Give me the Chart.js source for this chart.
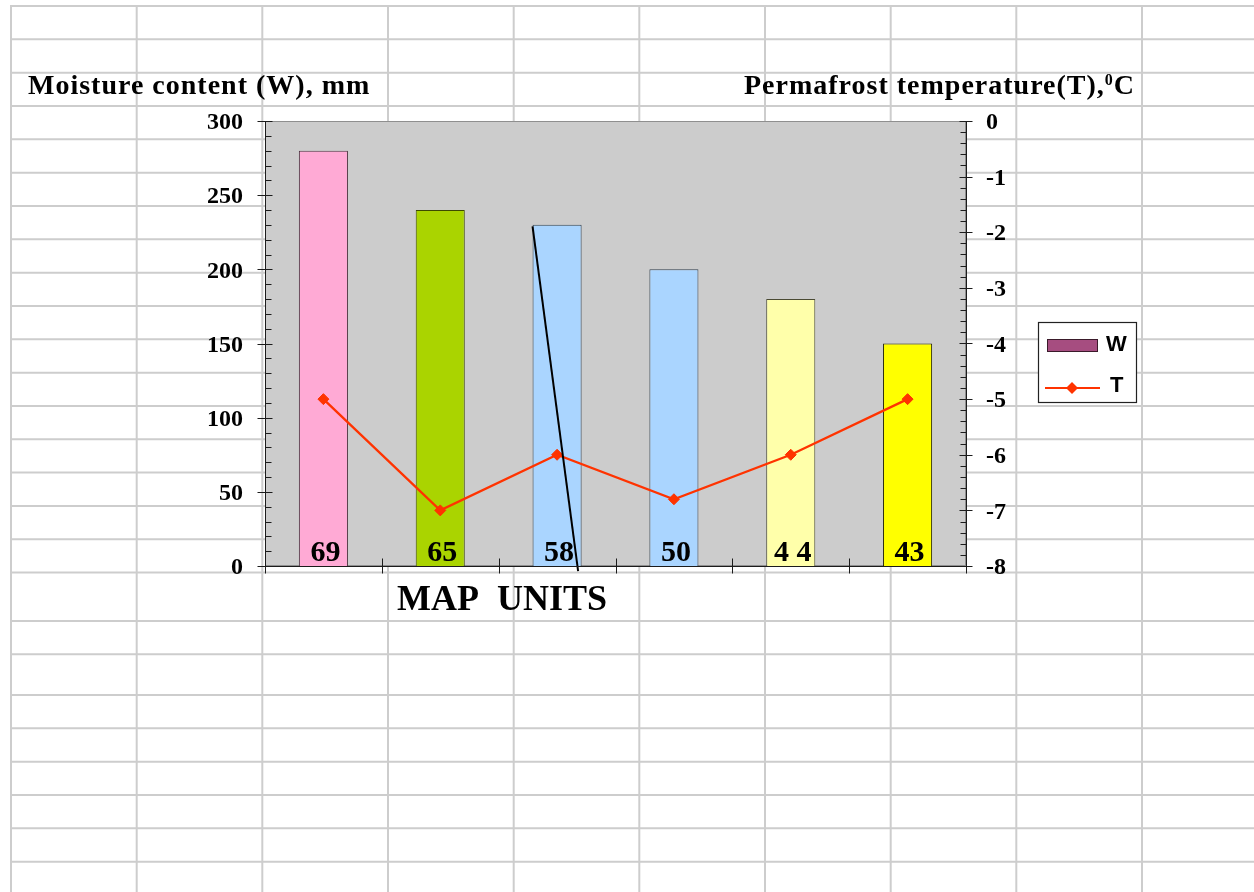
<!DOCTYPE html>
<html>
<head>
<meta charset="utf-8">
<script src="https://cdn.jsdelivr.net/npm/chart.js@4.4.1/dist/chart.umd.min.js"></script>
<style>
  html, body { margin: 0; padding: 0; background: #fff; overflow: hidden; }
  canvas { display: block; }
</style>
</head>
<body>
<canvas id="chart" width="1254" height="892"></canvas>
<script>
// Map units (labels written at the foot of each bar)
const mapUnits = ['69', '65', '58', '50', '4 4', '43'];
// Moisture content W, mm
const moisture = [280, 240, 230, 200, 180, 150];
// Permafrost temperature T, °C
const temperature = [-5, -7, -6, -6.8, -6, -5];
// Axis ranges
const moistureRange = { min: 0, max: 300, step: 50, minor: 10 };
const temperatureRange = { min: -8, max: 0, step: 1, minor: 0.2 };
// Hand-drawn stroke across the third bar (x in category units, y in mm)
const strokeX = [1.79, 2.18];
const strokeY = [229, -3.5];

const barFills = ['#ffaad5', '#aad400', '#aad5ff', '#aad5ff', '#ffffaa', '#ffff00'];
const barEdges = ['#4d3340', '#3d4a00', '#33414f', '#33414f', '#4a4a33', '#222200'];

const W = 1254, H = 892;
const SERIF = '"Liberation Serif", "Times New Roman", serif';
const SANS = '"Liberation Sans", Arial, sans-serif';

// Worksheet cell grid behind the chart
const sheetCols = [11, 136.7, 262.3, 388, 513.7, 639.3, 765, 890.7, 1016.3, 1142];
const sheetRows = [];
for (let k = 0; k <= 17; k++) sheetRows.push(6 + k * 33.33);
sheetRows.push(621, 654.3, 695, 728.3, 761.7, 795, 828.3, 861.7);

function seg(ctx, x1, y1, x2, y2) {
  ctx.beginPath(); ctx.moveTo(x1, y1); ctx.lineTo(x2, y2); ctx.stroke();
}

const decor = {
  id: 'decor',
  beforeDraw(chart) {
    const ctx = chart.ctx, a = chart.chartArea;
    ctx.save();
    ctx.fillStyle = '#fff';
    ctx.fillRect(0, 0, W, H);
    ctx.strokeStyle = '#cdcdcd';
    ctx.lineWidth = 2;
    sheetCols.forEach(x => seg(ctx, x, 6, x, H));
    sheetRows.forEach(y => seg(ctx, 10, y, W, y));
    // plot area
    ctx.fillStyle = '#cccccc';
    ctx.fillRect(a.left, a.top, a.right - a.left, a.bottom - a.top);
    ctx.strokeStyle = '#8f8f8f';
    ctx.lineWidth = 1;
    ctx.strokeRect(a.left + 0.5, a.top + 0.5, a.right - a.left - 1, a.bottom - a.top - 1);
    ctx.restore();
  },
  afterDatasetsDraw(chart) {
    const ctx = chart.ctx, a = chart.chartArea;
    const barIndex = chart.data.datasets.findIndex(d => d.type === 'bar');
    const meta = chart.getDatasetMeta(barIndex);
    ctx.save();
    ctx.font = 'bold 30px ' + SERIF;
    ctx.fillStyle = '#000';
    ctx.textAlign = 'center';
    ctx.textBaseline = 'alphabetic';
    meta.data.forEach((bar, i) => {
      const p = bar.getProps(['x', 'y', 'width', 'base'], true);
      ctx.save();
      ctx.beginPath();
      ctx.rect(p.x - p.width / 2, p.y, p.width, p.base - p.y);
      ctx.clip();
      ctx.fillText(chart.data.labels[i], p.x + 2, a.bottom - 5);
      ctx.restore();
    });
    ctx.restore();
  },
  afterDraw(chart) {
    const ctx = chart.ctx, a = chart.chartArea;
    const yW = chart.scales.yW, yT = chart.scales.yT, x = chart.scales.x;
    const L = Math.round(a.left) + 0.5, R = Math.round(a.right) + 0.5, B = Math.round(a.bottom) + 0.5;
    ctx.save();
    ctx.strokeStyle = '#1c1c1c';
    ctx.lineWidth = 1;
    // axis lines
    seg(ctx, L, a.top, L, B + 7);
    seg(ctx, R, a.top, R, B + 7);
    seg(ctx, L, B, R, B);
    // left axis ticks
    for (let v = moistureRange.min; v <= moistureRange.max + 1e-9; v += moistureRange.minor) {
      const y = Math.round(yW.getPixelForValue(v)) + 0.5;
      if (Math.abs(v % moistureRange.step) < 1e-6) seg(ctx, L - 8, y, L + 7, y);
      else seg(ctx, L, y, L + 6, y);
    }
    // right axis ticks
    for (let v = temperatureRange.min; v <= temperatureRange.max + 1e-9; v += temperatureRange.minor) {
      const y = Math.round(yT.getPixelForValue(v)) + 0.5;
      const r = Math.round(v * 5) / 5;
      if (Math.abs(r - Math.round(r)) < 1e-6) seg(ctx, R - 7, y, R + 6, y);
      else seg(ctx, R - 6, y, R, y);
    }
    // category boundary ticks
    for (let k = 1; k < chart.data.labels.length; k++) {
      const bx = Math.round((x.getPixelForValue(k - 1) + x.getPixelForValue(k)) / 2) + 0.5;
      seg(ctx, bx, B - 8, bx, B + 7);
    }

    // axis titles
    ctx.fillStyle = '#000';
    ctx.textBaseline = 'alphabetic';
    ctx.textAlign = 'left';
    ctx.font = 'bold 28px ' + SERIF;
    ctx.letterSpacing = '1px';
    ctx.fillText('Moisture content (W), mm', 28, 94);
    const main = 'Permafrost temperature(T),';
    ctx.fillText(main, 744, 94);
    let px = 744 + ctx.measureText(main).width;
    ctx.font = 'bold 16px ' + SERIF;
    ctx.letterSpacing = '0px';
    ctx.fillText('0', px, 85);
    px += ctx.measureText('0').width + 1;
    ctx.font = 'bold 28px ' + SERIF;
    ctx.fillText('C', px, 94);

    ctx.font = 'bold 36px ' + SERIF;
    ctx.fillText('MAP  UNITS', 397, 610);

    // legend
    const dsW = chart.data.datasets.find(d => d.type === 'bar');
    const dsT = chart.data.datasets.find(d => d.label === 'T');
    ctx.fillStyle = '#fff';
    ctx.fillRect(1038, 322, 99, 81);
    ctx.strokeStyle = '#222';
    ctx.lineWidth = 1.2;
    ctx.strokeRect(1038.5, 322.5, 98, 80);
    ctx.fillStyle = dsW.legendColor;
    ctx.fillRect(1047, 339, 51, 13);
    ctx.strokeStyle = '#3a1a2a';
    ctx.lineWidth = 1;
    ctx.strokeRect(1047.5, 339.5, 50, 12);
    ctx.fillStyle = '#000';
    ctx.font = 'bold 22px ' + SANS;
    ctx.fillText(dsW.label, 1106, 351);
    ctx.strokeStyle = dsT.borderColor;
    ctx.lineWidth = 2;
    seg(ctx, 1045, 388, 1100, 388);
    ctx.fillStyle = dsT.borderColor;
    ctx.beginPath();
    ctx.moveTo(1072 - 6, 388); ctx.lineTo(1072, 382); ctx.lineTo(1078, 388); ctx.lineTo(1072, 394);
    ctx.closePath(); ctx.fill();
    ctx.fillStyle = '#000';
    ctx.fillText(dsT.label, 1110, 392);
    ctx.restore();
  }
};

const tickFont = { family: SERIF, size: 24, weight: 'bold' };

new Chart(document.getElementById('chart'), {
  type: 'bar',
  data: {
    labels: mapUnits,
    datasets: [
      {
        type: 'line', label: 'T', data: temperature,
        xAxisID: 'x', yAxisID: 'yT',
        borderColor: '#ff3300', backgroundColor: '#ff3300',
        borderWidth: 2.3, tension: 0,
        pointStyle: 'rectRot', pointRadius: 5.5, pointBorderWidth: 1,
        pointBackgroundColor: '#ff3300', pointBorderColor: '#ff3300',
        order: 1
      },
      {
        type: 'line', label: 'stroke',
        data: strokeX.map((v, i) => ({ x: v, y: strokeY[i] })),
        xAxisID: 'xs', yAxisID: 'yW',
        borderColor: '#000', borderWidth: 2, pointRadius: 0,
        clip: false, order: 0
      },
      {
        type: 'bar', label: 'W', data: moisture,
        xAxisID: 'x', yAxisID: 'yW',
        backgroundColor: barFills, borderColor: barEdges, borderWidth: 1,
        grouped: false, barPercentage: 0.42, categoryPercentage: 1,
        legendColor: '#a64d80',
        order: 2
      }
    ]
  },
  options: {
    responsive: false,
    animation: false,
    devicePixelRatio: 1,
    layout: { padding: { top: 121, bottom: 326, left: 0, right: 0 } },
    plugins: { legend: { display: false }, tooltip: { enabled: false } },
    scales: {
      x: { type: 'category', display: false, offset: true },
      xs: { type: 'linear', display: false, offset: false, min: -0.5, max: 5.5 },
      yW: {
        position: 'left',
        min: moistureRange.min, max: moistureRange.max,
        grid: { display: false, drawTicks: false },
        border: { display: false },
        ticks: { stepSize: moistureRange.step, font: tickFont, color: '#000', padding: 22, labelOffset: 2 },
        afterFit(s) { s.width = 265; }
      },
      yT: {
        position: 'right',
        min: temperatureRange.min, max: temperatureRange.max,
        grid: { display: false, drawTicks: false },
        border: { display: false },
        ticks: { stepSize: temperatureRange.step, font: tickFont, color: '#000', padding: 20, labelOffset: 2 },
        afterFit(s) { s.width = 288; }
      }
    }
  },
  plugins: [decor]
});
</script>
</body>
</html>
